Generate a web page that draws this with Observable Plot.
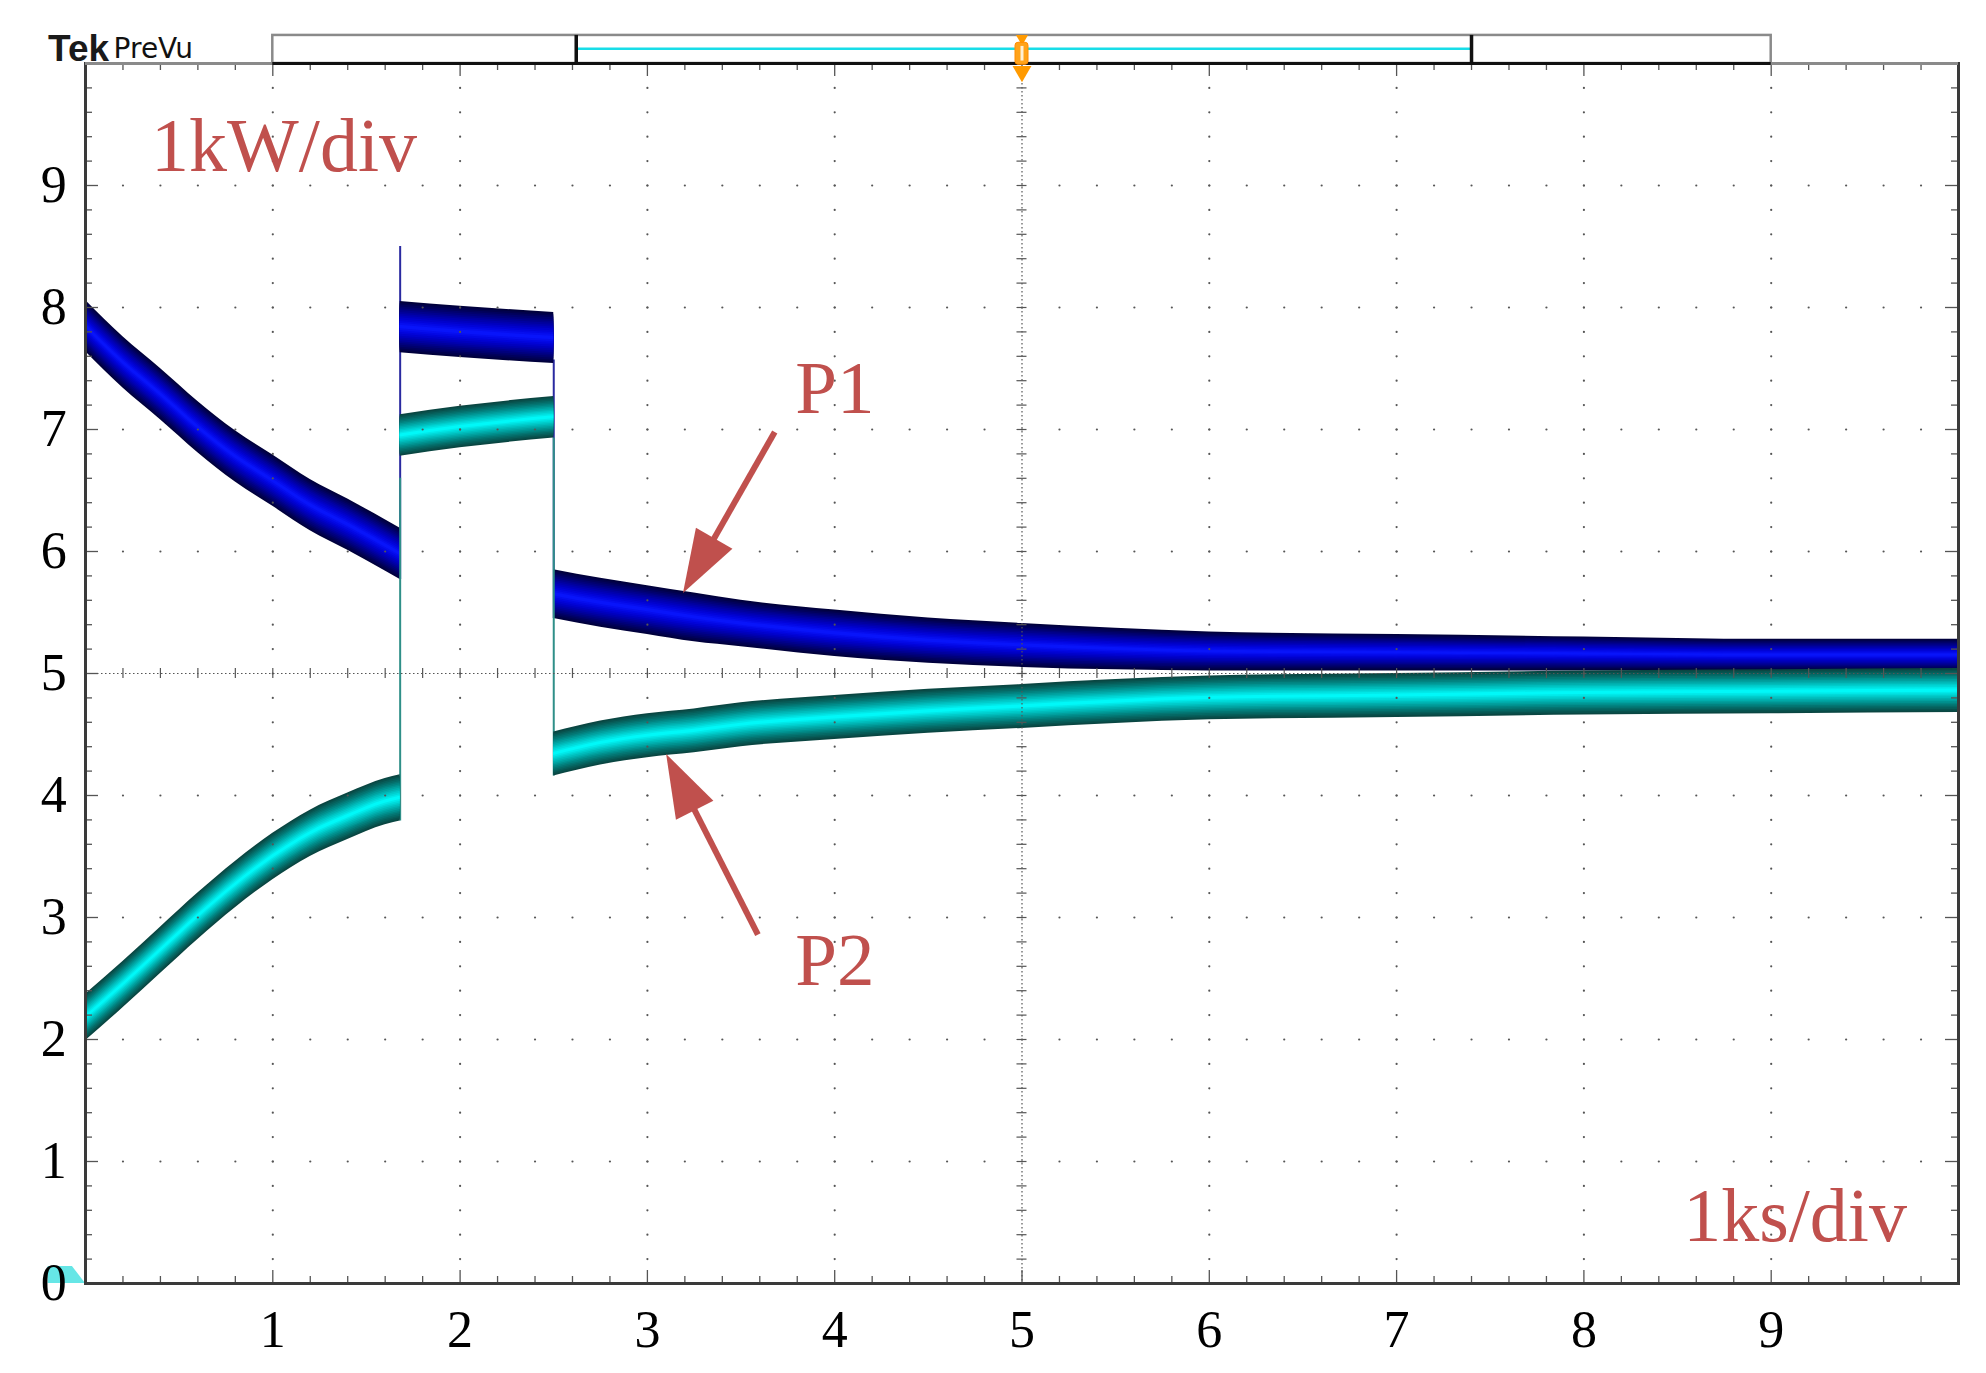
<!DOCTYPE html>
<html>
<head>
<meta charset="utf-8">
<script src="https://cdn.jsdelivr.net/npm/d3@7"></script>
<script src="https://cdn.jsdelivr.net/npm/@observablehq/plot@0.6"></script>
<style>
  html, body { margin: 0; padding: 0; background: #fff; }
  #chart svg { display: block; }
</style>
</head>
<body>
<div id="chart"></div>
<script>
// ---------------- data ----------------
// time in divisions (1 ks/div), power in divisions (1 kW/div)
const tSeg1 = [0, 0.2, 0.4, 0.6, 0.8, 1.0, 1.2, 1.4, 1.6, 1.68];
const p1Seg1 = [7.85, 7.55, 7.29, 7.02, 6.78, 6.58, 6.38, 6.22, 6.05, 5.98];
const p2Seg1 = [2.18, 2.45, 2.73, 3.01, 3.27, 3.50, 3.69, 3.83, 3.95, 3.98];

const tSeg2 = [1.68, 2.0, 2.5];
const p1Seg2 = [7.84, 7.80, 7.75];
const p2Seg2 = [6.95, 7.02, 7.10];

const tSeg3 = [2.5, 2.75, 3.0, 3.25, 3.5, 4.0, 4.5, 5.0, 5.5, 6.0, 7.0, 8.0, 9.0, 10.0];
const p1Seg3 = [5.65, 5.58, 5.52, 5.46, 5.41, 5.33, 5.27, 5.23, 5.20, 5.18, 5.17, 5.16, 5.15, 5.15];
const p2Seg3 = [4.34, 4.43, 4.49, 4.53, 4.58, 4.64, 4.69, 4.73, 4.77, 4.80, 4.82, 4.84, 4.85, 4.86];

// half-width of the noisy trace envelope (divisions)
const p1HalfSeg1 = 0.21;
const p1HalfSeg2 = 0.21;
const p1HalfSeg3 = [0.20, 0.20, 0.20, 0.20, 0.19, 0.19, 0.185, 0.18, 0.17, 0.16, 0.15, 0.14, 0.13, 0.13];
const p2HalfSeg1 = 0.19;
const p2HalfSeg2 = 0.17;
const p2HalfSeg3 = 0.18;

// vertical edges of the step changes
const stepT = [1.68, 1.68, 2.5, 2.5];
const stepLo = [5.77, 3.79, 5.45, 4.16];
const stepHi = [8.50, 6.60, 7.57, 6.93];
const stepSeries = ["P1", "P2", "P1", "P2"];

// tick labels
const xTickLabels = [1, 2, 3, 4, 5, 6, 7, 8, 9];
const yTickLabels = [0, 1, 2, 3, 4, 5, 6, 7, 8, 9];

// annotation arrows (from -> to, in divisions)
const arrowFromT = [3.68, 3.59];
const arrowFromV = [6.98, 2.86];
const arrowToT = [3.19, 3.10];
const arrowToV = [5.66, 4.34];

// record-window bar of the scope header
const barRange = [1, 9];
const viewRange = [2.62, 7.40];
const triggerT = [5];

// ---------------- layout ----------------
const W = 1986, H = 1373, ML = 85, MR = 28, MT = 63, MB = 90;
const kx = (W - ML - MR) / 10, ky = (H - MT - MB) / 10;
const serif = "'Liberation Serif', 'Times New Roman', serif";
const red = "#c0504d";

const p1Ramp = d3.interpolateRgbBasis(["#00003c", "#000070", "#0000a8", "#0000d8", "#0814fa"]);
const p2Ramp = d3.interpolateRgbBasis(["#0a4642", "#056a66", "#009896", "#00c8c8", "#00f8f8"]);
const nLayers = 14;
const layers = d3.range(nLayers).map(i => 1 - i / nLayers);

function table(series, seg, ts, vs, hs) {
  return ts.map((t, i) => ({series, seg, t, v: vs[i], h: Array.isArray(hs) ? hs[i] : hs}));
}
const rowsP1 = [
  ...table("P1", 1, tSeg1, p1Seg1, p1HalfSeg1),
  ...table("P1", 2, tSeg2, p1Seg2, p1HalfSeg2),
  ...table("P1", 3, tSeg3, p1Seg3, p1HalfSeg3)
];
const rowsP2 = [
  ...table("P2", 1, tSeg1, p2Seg1, p2HalfSeg1),
  ...table("P2", 2, tSeg2, p2Seg2, p2HalfSeg2),
  ...table("P2", 3, tSeg3, p2Seg3, p2HalfSeg3)
];
const bandMarks = (rows, ramp) => layers.map((f, i) =>
  Plot.areaY(rows, {x: "t", y1: d => d.v - d.h * f, y2: d => d.v + d.h * f, z: "seg", fill: ramp(i / (nLayers - 1)), curve: "monotone-x"}));

const steps = stepT.map((t, i) => ({t, lo: stepLo[i], hi: stepHi[i], series: stepSeries[i]}));

// grid
const majors = d3.range(1, 10);
const minors = d3.range(1, 50).map(i => i / 5);
const isMajor = d => Math.abs(d - Math.round(d)) < 1e-6;
const gridDots = [
  ...majors.filter(m => m !== 5).flatMap(m => minors.map(v => ({x: m, y: v}))),
  ...majors.filter(m => m !== 5).flatMap(m => minors.map(v => ({x: v, y: m})))
];

// arrows
const arrows = arrowFromT.map((t, i) => {
  const dxp = (arrowToT[i] - t) * kx, dyp = -(arrowToV[i] - arrowFromV[i]) * ky;
  const len = Math.hypot(dxp, dyp);
  const back = 55 / len;
  return {
    x1: t, y1: arrowFromV[i], x2: arrowToT[i], y2: arrowToV[i],
    sx: arrowToT[i] - (arrowToT[i] - t) * back,
    sy: arrowToV[i] - (arrowToV[i] - arrowFromV[i]) * back,
    angle: Math.atan2(dxp, -dyp) * 180 / Math.PI
  };
});
const headSymbol = {
  draw(ctx) { ctx.moveTo(0, 0); ctx.lineTo(21, 63); ctx.lineTo(-21, 63); ctx.closePath(); }
};

const chart = Plot.plot({
  width: W, height: H,
  marginLeft: ML, marginRight: MR, marginTop: MT, marginBottom: MB,
  x: {domain: [0, 10], axis: null},
  y: {domain: [0, 10], axis: null},
  style: {background: "#fff", fontFamily: serif, overflow: "visible"},
  marks: [
    // channel ground marker
    Plot.areaY([{x: -0.2, y: 0.14}, {x: -0.07, y: 0.14}, {x: 0, y: 0}], {x: "x", y1: 0, y2: "y", fill: "#66e6e6"}),

    // traces
    Plot.ruleX(steps.filter(d => d.series === "P1"), {x: "t", y1: "lo", y2: "hi", stroke: "#2a2aa0", strokeWidth: 2}),
    ...bandMarks(rowsP1, p1Ramp),
    Plot.ruleX(steps.filter(d => d.series === "P2"), {x: "t", y1: "lo", y2: "hi", stroke: "#2f8f88", strokeWidth: 2}),
    ...bandMarks(rowsP2, p2Ramp),

    // graticule
    Plot.dot(gridDots, {x: "x", y: "y", r: 1.1, fill: "#555"}),
    Plot.ruleX([5], {stroke: "#555", strokeWidth: 1.2, strokeDasharray: "1.5,2.5"}),
    Plot.ruleY([5], {stroke: "#555", strokeWidth: 1.2, strokeDasharray: "1.5,2.5"}),
    Plot.ruleX(minors, {x: d => d, y1: 5 - 5 / ky, y2: 5 + 5 / ky, stroke: "#555", strokeWidth: 1.2}),
    Plot.ruleY(minors, {y: d => d, x1: 5 - 5 / kx, x2: 5 + 5 / kx, stroke: "#555", strokeWidth: 1.2}),
    // border ticks
    Plot.ruleX(minors, {x: d => d, y1: 0, y2: d => (isMajor(d) ? 13 : 7) / ky, stroke: "#555", strokeWidth: 1.3}),
    Plot.ruleX(minors, {x: d => d, y1: 10, y2: d => 10 - (isMajor(d) ? 13 : 7) / ky, stroke: "#555", strokeWidth: 1.3}),
    Plot.ruleY(minors, {y: d => d, x1: 0, x2: d => (isMajor(d) ? 13 : 7) / kx, stroke: "#555", strokeWidth: 1.3}),
    Plot.ruleY(minors, {y: d => d, x1: 10, x2: d => 10 - (isMajor(d) ? 13 : 7) / kx, stroke: "#555", strokeWidth: 1.3}),
    Plot.frame({stroke: "#3a3a3a", strokeWidth: 3}),
    Plot.ruleY([10], {stroke: "#8a8a8a", strokeWidth: 3}),

    // header record bar
    Plot.rect([barRange], {x1: d => d[0], x2: d => d[1], y1: 10, y2: 10.23, fill: "#fff", stroke: "#8a8a8a", strokeWidth: 2.5}),
    Plot.ruleY([10], {x1: barRange[0], x2: barRange[1], stroke: "#111", strokeWidth: 3}),
    Plot.ruleY([10.12], {x1: viewRange[0], x2: viewRange[1], stroke: "#18dde8", strokeWidth: 2.5}),
    Plot.ruleX(viewRange, {x: d => d, y1: 10, y2: 10.23, stroke: "#111", strokeWidth: 3.5}),
    // trigger marker
    Plot.dot(triggerT, {x: d => d, y: 10.205, symbol: "triangle", r: 4.5, rotate: 180, fill: "#ff9a00"}),
    Plot.rect(triggerT, {x1: d => d - 6.5 / kx, x2: d => d + 6.5 / kx, y1: 9.99, y2: 10.17, fill: "#ffa31a", stroke: "#ff8c00", rx: 3}),
    Plot.ruleX(triggerT, {x: d => d, y1: 10.02, y2: 10.14, stroke: "#fff1d6", strokeWidth: 3}),
    Plot.dot(triggerT, {x: d => d, y: 9.935, symbol: "triangle", r: 7, rotate: 180, fill: "#ff9a00"}),
    Plot.text(["Tek"], {x: -0.2, y: 10.12, text: d => d, textAnchor: "start", fontFamily: "'Liberation Sans', Arial, sans-serif", fontWeight: "bold", fontSize: 37, fill: "#1a1a1a", letterSpacing: "-2px"}),
    Plot.text(["PreVu"], {x: 0.15, y: 10.115, text: d => d, textAnchor: "start", fontFamily: "'DejaVu Sans', sans-serif", fontSize: 28, fill: "#111"}),

    // tick labels
    Plot.text(xTickLabels, {x: d => d, y: d => -0.385, text: d => String(d), fontSize: 52, fontFamily: serif, fill: "#000"}),
    Plot.text(yTickLabels, {x: d => -0.17, y: d => d, text: d => String(d), fontSize: 52, fontFamily: serif, fill: "#000"}),

    // annotations
    Plot.text(["1kW/div"], {x: 0.35, y: 9.32, text: d => d, textAnchor: "start", fontSize: 76, fontFamily: serif, fill: red}),
    Plot.text(["1ks/div"], {x: 8.53, y: 0.55, text: d => d, textAnchor: "start", fontSize: 76, fontFamily: serif, fill: red}),
    Plot.text(["P1"], {x: 3.79, y: 7.33, text: d => d, textAnchor: "start", fontSize: 75, fontFamily: serif, fill: red}),
    Plot.text(["P2"], {x: 3.79, y: 2.64, text: d => d, textAnchor: "start", fontSize: 75, fontFamily: serif, fill: red}),
    Plot.link(arrows, {x1: "x1", y1: "y1", x2: "sx", y2: "sy", stroke: red, strokeWidth: 6}),
    Plot.dot(arrows, {x: "x2", y: "y2", symbol: headSymbol, r: 5, rotate: "angle", fill: red, stroke: "none"})
  ]
});

document.getElementById("chart").append(chart);
</script>
</body>
</html>
